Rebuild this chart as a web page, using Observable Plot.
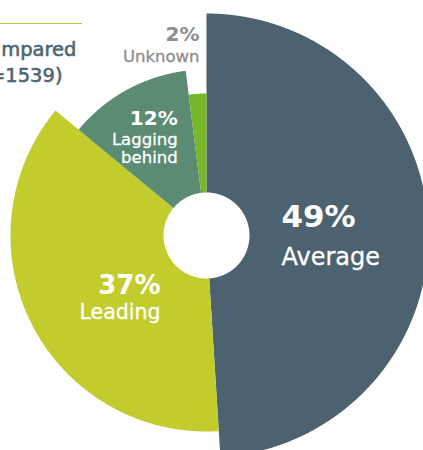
<!DOCTYPE html>
<html>
<head>
<meta charset="utf-8">
<script src="https://cdn.jsdelivr.net/npm/d3@7"></script>
<script src="https://cdn.jsdelivr.net/npm/@observablehq/plot@0.6"></script>
<style>
  html, body { margin: 0; padding: 0; background: #fff; overflow: hidden; }
  #wrap { position: relative; width: 423px; height: 450px; }
  #rule { position: absolute; left: 0; top: 23px; width: 82px; border-top: 1px solid #a9c94f; }
</style>
</head>
<body>
<div id="wrap"><div id="rule"></div></div>
<script>
// ---- data ----
const categories = ["Average", "Leading", "Lagging behind", "Unknown"];
const shares = [49, 37, 12, 2];
const pctLabels = ["49%", "37%", "12%", "2%"];
const nameLines = [["Average"], ["Leading"], ["Lagging", "behind"], ["Unknown"]];
const headerLines = ["mpared", "=1539)"];

// ---- style / layout ----
const style = {
  innerRadius: 43,
  outerRadius: [222, 196, 166, 142],
  colors: ["#4d6270", "#c2cc2c", "#5b8b73", "#77b72a"],
  textColor: ["#ffffff", "#ffffff", "#ffffff", "#8d8d8d"],
  labelRadius: [110, 110, 120, 180],
  anchor: ["start", "end", "end", "end"],
  dx: [-35, 52, 29, 4.3],
  pctSize: [31, 26, 20, 20],
  nameSize: [24, 20.5, 16.5, 16.5],
  pctDy: [-4.8, 8.4, -5, -14.7],
  nameDy: [[32.5], [33.4], [15, 32.7], [6.3]],
  font: "DejaVu Sans, sans-serif",
  headerColor: "#4f6574"
};

// ---- geometry from data ----
const total = d3.sum(shares);
const rad = deg => deg * Math.PI / 180;
const polar = (r, deg) => ({x: r * Math.sin(rad(deg)), y: r * Math.cos(rad(deg))});
const pts = [];
const labels = [];
let acc = 0;
categories.forEach((cat, i) => {
  const a0 = acc / total * 360;
  const a1 = (acc + shares[i]) / total * 360;
  acc += shares[i];
  const n = Math.max(4, Math.ceil((a1 - a0) / 0.25));
  for (let k = 0; k <= n; k++) {
    const p = polar(style.outerRadius[i], a0 + (a1 - a0) * k / n);
    pts.push({category: cat, ...p});
  }
  for (let k = n; k >= 0; k--) {
    const p = polar(style.innerRadius, a0 + (a1 - a0) * k / n);
    pts.push({category: cat, ...p});
  }
  const mid = (a0 + a1) / 2;
  const c = polar(style.labelRadius[i], mid);
  labels.push({text: pctLabels[i], x: c.x + style.dx[i], y: c.y - style.pctDy[i],
    anchor: style.anchor[i], size: style.pctSize[i], weight: "bold", color: style.textColor[i]});
  nameLines[i].forEach((t, j) => {
    labels.push({text: t, x: c.x + style.dx[i], y: c.y - style.nameDy[i][j],
      anchor: style.anchor[i], size: style.nameSize[i], weight: "normal", color: style.textColor[i]});
  });
});

const textMarks = labels.map(l => Plot.text([l], {
  x: "x", y: "y", text: "text", textAnchor: l.anchor, lineAnchor: "bottom",
  fontSize: l.size, fontWeight: l.weight, fill: l.color, fontFamily: style.font,
  letterSpacing: l.weight === "bold" ? 1 : 0.5,
  stroke: l.weight === "bold" ? "none" : l.color, strokeWidth: 0.3
}));

const headerMarks = headerLines.map((t, j) => Plot.text([t], {
  frameAnchor: "top-left", text: d => d, textAnchor: "end", lineAnchor: "bottom",
  dx: j === 0 ? 76 : 62, dy: j === 0 ? 55 : 81.7,
  fontSize: 19.5, fill: style.headerColor, stroke: style.headerColor, strokeWidth: 0.6,
  fontFamily: style.font
}));

const chart = Plot.plot({
  width: 423,
  height: 450,
  margin: 0,
  x: {domain: [-206, 217], axis: null},
  y: {domain: [-215, 235], axis: null},
  color: {domain: categories, range: style.colors},
  marks: [
    Plot.line(pts, {x: "x", y: "y", z: "category", fill: "category", stroke: "none", curve: "linear-closed"}),
    ...textMarks,
    ...headerMarks
  ]
});
document.getElementById("wrap").prepend(chart);
</script>
</body>
</html>
